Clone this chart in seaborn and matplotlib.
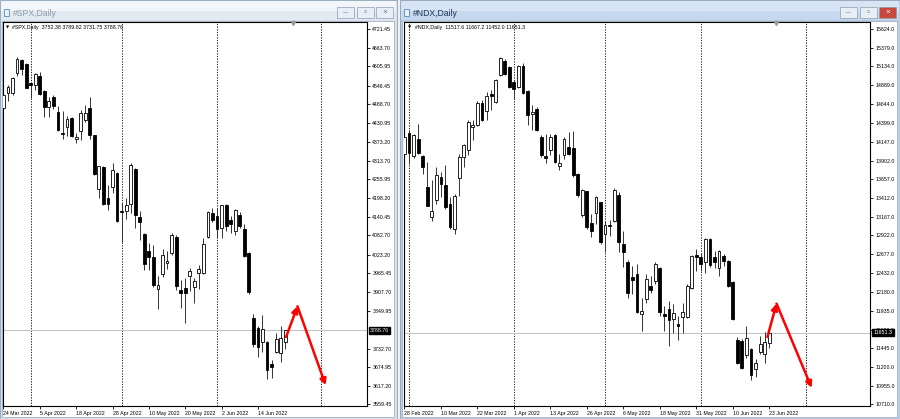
import numpy as np
import pandas as pd
import seaborn as sns
import matplotlib.pyplot as plt
import matplotlib.transforms as mtransforms
from matplotlib.patches import Rectangle

spx_open = [4476.3, 4524.8, 4522.7, 4584.5, 4625.7, 4612.3, 4553.6, 4548.4, 4577.3, 4529.9,
            4479.4, 4510.3, 4466.0, 4401.1, 4417.6, 4446.5, 4380.5, 4407.3, 4440.3, 4476.3,
            4391.9, 4227.1, 4293.0, 4198.2, 4231.2, 4275.5, 4159.1, 4159.1, 4180.7, 4287.8,
            4138.5, 4087.9, 4033.3, 4015.8, 3918.0, 3963.3, 3997.3, 4028.2, 4077.6, 3914.9,
            3920.0, 3956.1, 3923.1, 3966.4, 3966.4, 4077.0, 4151.9, 4143.7, 4105.6, 4177.6,
            4131.3, 4095.3, 4146.7, 4101.0, 4028.2, 3827.3, 3796.4, 3752.1, 3753.2, 3686.2,
            3721.2, 3719.2, 3752.38]
spx_high = [4522.7, 4548.5, 4572.1, 4633.9, 4628.8, 4615.4, 4558.7, 4584.5, 4589.6, 4533.0,
            4512.4, 4517.5, 4484.6, 4469.1, 4452.6, 4450.6, 4399.1, 4471.2, 4486.6, 4512.4,
            4394.0, 4298.1, 4296.1, 4237.4, 4306.4, 4277.5, 4182.8, 4198.2, 4306.4, 4290.9,
            4157.0, 4090.0, 4059.1, 4054.0, 3956.1, 4040.6, 4033.3, 4090.0, 4084.8, 3945.8,
            3951.0, 3981.8, 3951.0, 3992.1, 4074.5, 4157.0, 4167.3, 4167.3, 4177.6, 4179.7,
            4141.6, 4164.3, 4153.9, 4119.0, 4030.3, 3840.7, 3801.6, 3837.6, 3755.2, 3698.5,
            3781.0, 3801.6, 3789.82]
spx_low = [4463.0, 4499.0, 4517.5, 4576.3, 4579.3, 4538.1, 4507.3, 4533.0, 4517.5, 4448.5,
           4448.5, 4473.2, 4407.3, 4380.5, 4388.8, 4386.7, 4368.2, 4376.4, 4435.1, 4381.6,
           4270.3, 4198.2, 4177.6, 4162.2, 4213.7, 4123.0, 4062.0, 4133.3, 4151.9, 4105.5,
           4067.0, 3976.7, 3974.6, 3923.1, 3856.2, 3953.0, 3979.8, 4023.0, 3914.9, 3858.2,
           3811.9, 3909.7, 3873.7, 3917.0, 3964.3, 4074.0, 4123.0, 4074.0, 4074.6, 4095.3,
           4090.1, 4084.9, 4105.6, 4017.0, 3902.5, 3737.7, 3706.8, 3721.2, 3638.8, 3641.9,
           3719.2, 3690.3, 3731.75]
spx_close = [4517.5, 4543.3, 4569.0, 4628.8, 4596.9, 4540.2, 4547.4, 4581.4, 4520.6, 4481.5,
             4500.0, 4484.6, 4409.4, 4397.0, 4443.4, 4388.8, 4386.7, 4463.0, 4460.9, 4391.9,
             4272.4, 4296.1, 4180.7, 4180.7, 4283.7, 4126.1, 4155.0, 4175.6, 4301.2, 4144.7,
             4125.1, 3994.2, 4015.8, 3930.3, 3928.3, 4023.0, 4004.5, 4084.8, 3925.2, 3904.6,
             3904.6, 3971.6, 3940.6, 3978.8, 4057.0, 4153.9, 4131.3, 4102.5, 4175.6, 4110.7,
             4118.9, 4162.2, 4110.7, 4018.0, 3906.6, 3748.0, 3737.7, 3793.3, 3667.7, 3675.9,
             3763.5, 3765.5, 3788.76]

ndx_open = [13991.5, 14262.8, 13956.4, 14188.4, 13956.4, 13562.5, 13159.8, 13387.4, 13693.8, 13588.7,
            13335.0, 13006.6, 13671.9, 13947.7, 14035.2, 14341.6, 14363.5, 14656.7, 14547.3, 14779.3,
            14669.9, 15020.0, 15208.2, 15120.7, 14932.5, 14866.8, 15138.2, 14814.3, 14516.7, 14582.3,
            14210.3, 13956.4, 14035.2, 14232.2, 13825.1, 13969.6, 14079.0, 14070.2, 13728.8, 13194.8,
            13501.2, 13081.0, 13212.3, 13356.8, 12941.0, 13060.0, 13116.0, 13457.4, 12809.8, 12569.1,
            12372.1, 12415.9, 11899.4, 12087.6, 12262.7, 12319.6, 12490.3, 11890.7, 11956.3, 11825.0,
            11768.1, 11855.6, 11855.6, 12240.8, 12669.8, 12643.5, 12569.1, 12875.5, 12634.7, 12494.7,
            12656.6, 12591.0, 12306.5, 11549.3, 11540.5, 11356.7, 11431.1, 11168.5, 11400.4, 11374.2,
            11517.6]
ndx_high = [14275.9, 14297.8, 14254.0, 14385.4, 13969.6, 13882.0, 13650.0, 13816.3, 13750.7, 13838.2,
            13422.4, 13466.2, 13991.5, 14122.7, 14429.1, 14429.1, 14678.6, 14691.7, 14801.2, 14823.1,
            14976.2, 15260.8, 15225.7, 15138.2, 14954.4, 15151.4, 15182.0, 14823.1, 14626.1, 14604.2,
            14232.2, 14254.0, 14254.0, 14245.3, 13991.5, 14210.3, 14275.9, 14289.1, 13737.6, 13531.9,
            13510.0, 13203.6, 13444.3, 13365.0, 13116.0, 13120.0, 13540.0, 13488.0, 12985.0, 12599.7,
            12525.3, 12547.2, 12109.5, 12415.9, 12394.0, 12569.1, 12503.4, 12000.1, 12065.7, 12030.7,
            11868.8, 12043.8, 12284.6, 12669.8, 12744.2, 12678.5, 12888.6, 12888.6, 12722.3, 12731.0,
            12678.5, 12599.7, 12319.6, 11593.1, 11562.4, 11737.5, 11453.0, 11299.8, 11606.2, 11663.1,
            11667.2]
ndx_low = [13912.6, 13860.1, 13938.9, 13991.5, 13728.8, 13304.3, 13116.0, 13335.0, 13422.4, 13269.2,
           13006.6, 12940.9, 13444.3, 13816.3, 13969.6, 14166.5, 14350.3, 14420.4, 14429.1, 14560.4,
           14656.7, 15006.9, 15020.0, 14858.1, 14713.6, 14858.1, 14770.5, 14363.5, 14297.8, 14289.1,
           13947.7, 13868.9, 13969.6, 13868.9, 13781.3, 13925.8, 13969.6, 13693.8, 13422.4, 13168.5,
           13006.6, 12897.2, 13072.2, 12809.8, 12700.4, 12920.0, 13094.0, 12700.4, 12503.4, 12109.5,
           12153.3, 11912.5, 11671.8, 12043.8, 12175.2, 12284.6, 11868.8, 11671.8, 11474.8, 11641.2,
           11549.3, 11649.9, 11838.1, 12218.9, 12450.9, 12459.6, 12424.7, 12503.4, 12494.7, 12394.0,
           12525.3, 12249.6, 11811.9, 11234.1, 11168.5, 11312.9, 11024.0, 11067.8, 11374.2, 11256.0,
           11452.0]
ndx_close = [14210.3, 14000.2, 14232.2, 14000.2, 13816.3, 13313.1, 13247.3, 13707.0, 13597.5, 13291.1,
             13037.3, 13444.3, 13947.7, 14100.9, 14407.2, 14363.5, 14656.7, 14429.1, 14744.3, 14744.3,
             14963.1, 15238.9, 15041.9, 14866.8, 14845.0, 15138.2, 14792.4, 14494.8, 14538.6, 14297.8,
             13969.6, 13934.5, 14210.3, 13882.0, 13868.9, 14188.4, 13991.5, 13707.0, 13457.4, 13518.7,
             13028.5, 12984.7, 13422.4, 12831.7, 13063.5, 13045.0, 13518.7, 12831.7, 12700.4, 12175.2,
             12337.1, 11925.7, 11934.4, 12350.2, 12205.8, 12547.2, 11921.3, 11868.8, 11811.9, 11912.5,
             11741.8, 11921.3, 12262.7, 12656.6, 12634.7, 12547.2, 12875.5, 12538.4, 12569.1, 12713.5,
             12582.2, 12262.7, 11825.0, 11256.0, 11181.6, 11575.5, 11094.0, 11247.2, 11505.5, 11527.4,
             11651.3]

spx_dates = ["24 Mar 2022", "5 Apr 2022", "18 Apr 2022", "28 Apr 2022", "10 May 2022",
             "20 May 2022", "2 Jun 2022", "14 Jun 2022"]
ndx_dates = ["28 Feb 2022", "10 Mar 2022", "22 Mar 2022", "1 Apr 2022", "13 Apr 2022",
             "26 Apr 2022", "6 May 2022", "18 May 2022", "31 May 2022", "10 Jun 2022", "23 Jun 2022"]

spx_prices = [4721.45, 4663.70, 4605.95, 4546.45, 4488.70, 4430.95, 4373.20, 4313.70, 4255.95,
              4198.20, 4140.45, 4082.70, 4023.20, 3965.45, 3907.70, 3849.95, 3732.70, 3674.95,
              3617.20, 3559.45]
ndx_prices = [15624.0, 15379.0, 15134.0, 14889.0, 14644.0, 14399.0, 14147.0, 13902.0, 13657.0,
              13412.0, 13167.0, 12922.0, 12677.0, 12432.0, 12180.0, 11935.0, 11690.0, 11445.0,
              11200.0, 10955.0, 10710.0]

# month separators (bar index of month start)
spx_seps = [6, 26, 47, 69.9]
ndx_seps = [1, 24, 44, 65, 88.1]

# hand-drawn red arrows: start -> peak -> target (bar index, price)
spx_arrow_x = [62.2, 64.7, 70.9]
spx_arrow_y = [3768.7, 3863.3, 3619.1]
ndx_arrow_x = [79.6, 81.6, 89.3]
ndx_arrow_y = [11593.0, 12030.0, 10928.0]

W, H = 900, 419
SMALL = 3.8

sns.set_theme(style="white")
plt.rcParams['font.family'] = ['Liberation Sans', 'DejaVu Sans']

fig = plt.figure(figsize=(W / 100, H / 100), dpi=100, facecolor='#eef0f3')


def fbox(x0, y0, x1, y1):
    return [x0 / W, 1 - y1 / H, (x1 - x0) / W, (y1 - y0) / H]


def frect(x0, y0, x1, y1, z=-5, **kw):
    b = fbox(x0, y0, x1, y1)
    fig.add_artist(Rectangle((b[0], b[1]), b[2], b[3], transform=fig.transFigure,
                             zorder=z, **kw))


def ftext(x, y, s, **kw):
    fig.text(x / W, 1 - y / H, s, **kw)


def window(x0, x1, title, active):
    border = '#b9cde6' if active else '#d9e2ec'
    bar = '#c6d8ee' if active else '#e2e9f1'
    frect(x0, 0, x1, H, fc=border, ec='#8ea2b8', lw=0.6)
    frect(x0 + 1, 1, x1 - 1, 11, fc='#f2f6fa' if not active else '#d6e4f4', ec='none')
    frect(x0 + 1, 11, x1 - 1, 20, fc=bar, ec='none')
    frect(x0 + 2, 21, x1 - 3, 417, fc='white', ec='#9aa6b2', lw=0.5)
    frect(x0 + 4, 9, x0 + 9, 16, z=2, fc='#e9f1fb', ec='#5b86c0', lw=0.6)
    ftext(x0 + 13, 13, title, fontsize=6.2, va='center',
          color='#1f3556' if active else '#8a99ab')
    # caption buttons
    bx = [x1 - 60, x1 - 40, x1 - 21]
    glyphs = ['\u2013', '\u25ab', '\u00d7']
    for i, (b, g) in enumerate(zip(bx, glyphs)):
        close = active and i == 2
        frect(b, 7, b + 17, 18, z=2, fc='#c9483e' if close else '#e8eef5',
              ec='#8f9cab', lw=0.5)
        ftext(b + 8.5, 12.5, g, fontsize=6, ha='center', va='center',
              color='white' if close else '#6b7785', zorder=3)


def chart(rect, o, h, l, c, name, price_fmt, prices, dates, seps,
          xlim, ylim, arr_x, arr_y):
    ax = fig.add_axes(fbox(*rect))
    df = pd.DataFrame({'open': o, 'high': h, 'low': l, 'close': c})
    idx = np.arange(len(df))
    up = df['close'] >= df['open']
    ax.vlines(idx, df['low'], df['high'], color='#333333', lw=0.7, zorder=2)
    body = (df['close'] - df['open']).abs().clip(lower=(ylim[1] - ylim[0]) * 0.002)
    ax.bar(idx, body, bottom=df[['open', 'close']].min(axis=1), width=0.62,
           color=np.where(up, 'white', 'black'), edgecolor='black', lw=0.6, zorder=3)

    for s in seps:
        ax.axvline(s, color='black', lw=0.6, ls=(0, (1.6, 1.6)), zorder=1)
    last = df['close'].iloc[-1]
    ax.axhline(last, color='#c4c4c4', lw=0.8, zorder=1)

    ax.set_xlim(*xlim)
    ax.set_ylim(*ylim)
    ax.set_facecolor('white')
    for sp in ax.spines.values():
        sp.set_color('black')
        sp.set_linewidth(0.8)

    ax.yaxis.tick_right()
    ax.set_yticks(prices)
    ax.set_yticklabels([price_fmt % p for p in prices])
    ax.tick_params(axis='y', direction='out', length=2, width=0.6, pad=1.8,
                   labelsize=SMALL, colors='black', right=True, left=False)
    ax.set_xticks(np.arange(len(dates)) * 8)
    ax.set_xticklabels(dates, ha='left')
    ax.tick_params(axis='x', direction='out', length=2, width=0.6, pad=1.8,
                   labelsize=SMALL, colors='black', bottom=True)
    ax.grid(False)

    tr = mtransforms.blended_transform_factory(ax.transAxes, ax.transData)
    ax.text(1.008, last, price_fmt % last, transform=tr, fontsize=SMALL, color='white',
            va='center', ha='left', zorder=6, clip_on=False,
            bbox=dict(boxstyle='square,pad=0.25', fc='black', ec='black'))

    ax.plot([0.798], [0.997], marker='v', ms=3, color='#9a9a9a',
            transform=ax.transAxes, clip_on=False, zorder=6)
    ax.text(0.008, 0.99, '\u25bc', transform=ax.transAxes, fontsize=3,
            va='top', ha='left', color='black', family='DejaVu Sans')
    ax.text(0.024, 0.993, '%s  %s' % (name, ' '.join(price_fmt % v for v in
                                                   (o[-1], h[-1], l[-1], c[-1]))),
            transform=ax.transAxes, fontsize=SMALL, va='top', ha='left', color='black')

    for k in range(2):
        ax.annotate('', xy=(arr_x[k + 1], arr_y[k + 1]), xytext=(arr_x[k], arr_y[k]),
                    arrowprops=dict(arrowstyle='-|>', color='#ff0000', lw=1.8,
                                    mutation_scale=9, shrinkA=0, shrinkB=0), zorder=7)
    return ax


window(0, 397, '#SPX,Daily', False)
window(400, 900, '#NDX,Daily', True)

chart((3, 22, 367, 406), spx_open, spx_high, spx_low, spx_close, '#SPX,Daily', '%.2f',
      spx_prices, spx_dates, spx_seps, (-0.1, 80.0), (3554.8, 4743.1),
      spx_arrow_x, spx_arrow_y)
chart((404, 22, 870, 406), ndx_open, ndx_high, ndx_low, ndx_close, '#NDX,Daily', '%.1f',
      ndx_prices, ndx_dates, ndx_seps, (-0.1, 102.1), (10690.0, 15716.0),
      ndx_arrow_x, ndx_arrow_y)

fig.savefig('out.png', dpi=100, facecolor=fig.get_facecolor())
